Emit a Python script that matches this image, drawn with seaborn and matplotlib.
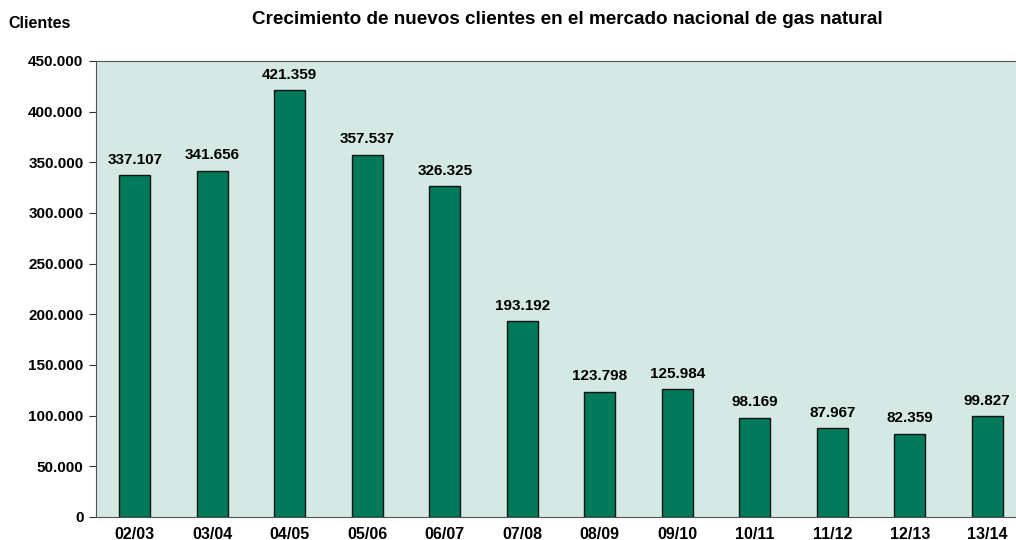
import matplotlib
matplotlib.use("Agg")
import matplotlib.pyplot as plt
import seaborn as sns
import pandas as pd

categories = ["02/03", "03/04", "04/05", "05/06", "06/07", "07/08", "08/09", "09/10", "10/11", "11/12", "12/13", "13/14"]
values = [337107, 341656, 421359, 357537, 326325, 193192, 123798, 125984, 98169, 87967, 82359, 99827]
yticks = [0, 50000, 100000, 150000, 200000, 250000, 300000, 350000, 400000, 450000]

sns.set_style("white")
plt.rcParams['font.family'] = ['Liberation Sans', 'DejaVu Sans']
plt.rcParams['text.color'] = 'black'
plt.rcParams['xtick.color'] = 'black'
plt.rcParams['ytick.color'] = 'black'

def fmt(v):
    return f"{v:,}".replace(",", ".")

df = pd.DataFrame({"cat": categories, "val": values})
fig = plt.figure(figsize=(10.16, 5.4), dpi=100)
ax = fig.add_axes([96/1016, 1-517/540, 930/1016, 456/540])
ax.set_facecolor("#D4E8E4")
sns.barplot(data=df, x="cat", y="val", ax=ax, color="#007A5A", width=0.4,
            edgecolor="#111111", linewidth=1.0, saturation=1)
for p in ax.patches:
    p.set_facecolor("#007A5A")
ax.set_ylim(0, 450000)
ax.set_xlim(-0.5, len(categories) - 0.5)
ax.set_yticks(yticks)
ax.set_yticklabels([fmt(t) for t in yticks], fontsize=11, fontweight="bold")
ax.set_xticks(range(len(categories)))
ax.set_xticklabels(categories, fontsize=11.5, fontweight="bold")
ax.set_xticks([i - 0.5 for i in range(len(categories) + 1)], minor=True)
ax.tick_params(axis="x", which="major", length=0, pad=7)
ax.tick_params(axis="x", which="minor", length=5, width=0.8, direction="out", color="#333333")
ax.tick_params(axis="y", length=5, width=0.8, direction="out", color="#333333", left=True, pad=4)
ax.set_xlabel("")
ax.set_ylabel("")
for s in ["left", "bottom", "top"]:
    ax.spines[s].set_color("#555555")
    ax.spines[s].set_linewidth(0.8)
ax.spines["right"].set_visible(False)
for i, v in enumerate(values):
    ax.annotate(fmt(v), (i, v), xytext=(0, 6), textcoords="offset points",
                ha="center", va="bottom", fontsize=11, fontweight="bold")
fig.text(567/1016, 1-19/540, "Crecimiento de nuevos clientes en el mercado nacional de gas natural",
         ha="center", va="center", fontsize=13.6, fontweight="bold")
fig.text(8/1016, 1-24/540, "Clientes", ha="left", va="center", fontsize=11.5, fontweight="bold")
fig.savefig("out.png", dpi=100)
